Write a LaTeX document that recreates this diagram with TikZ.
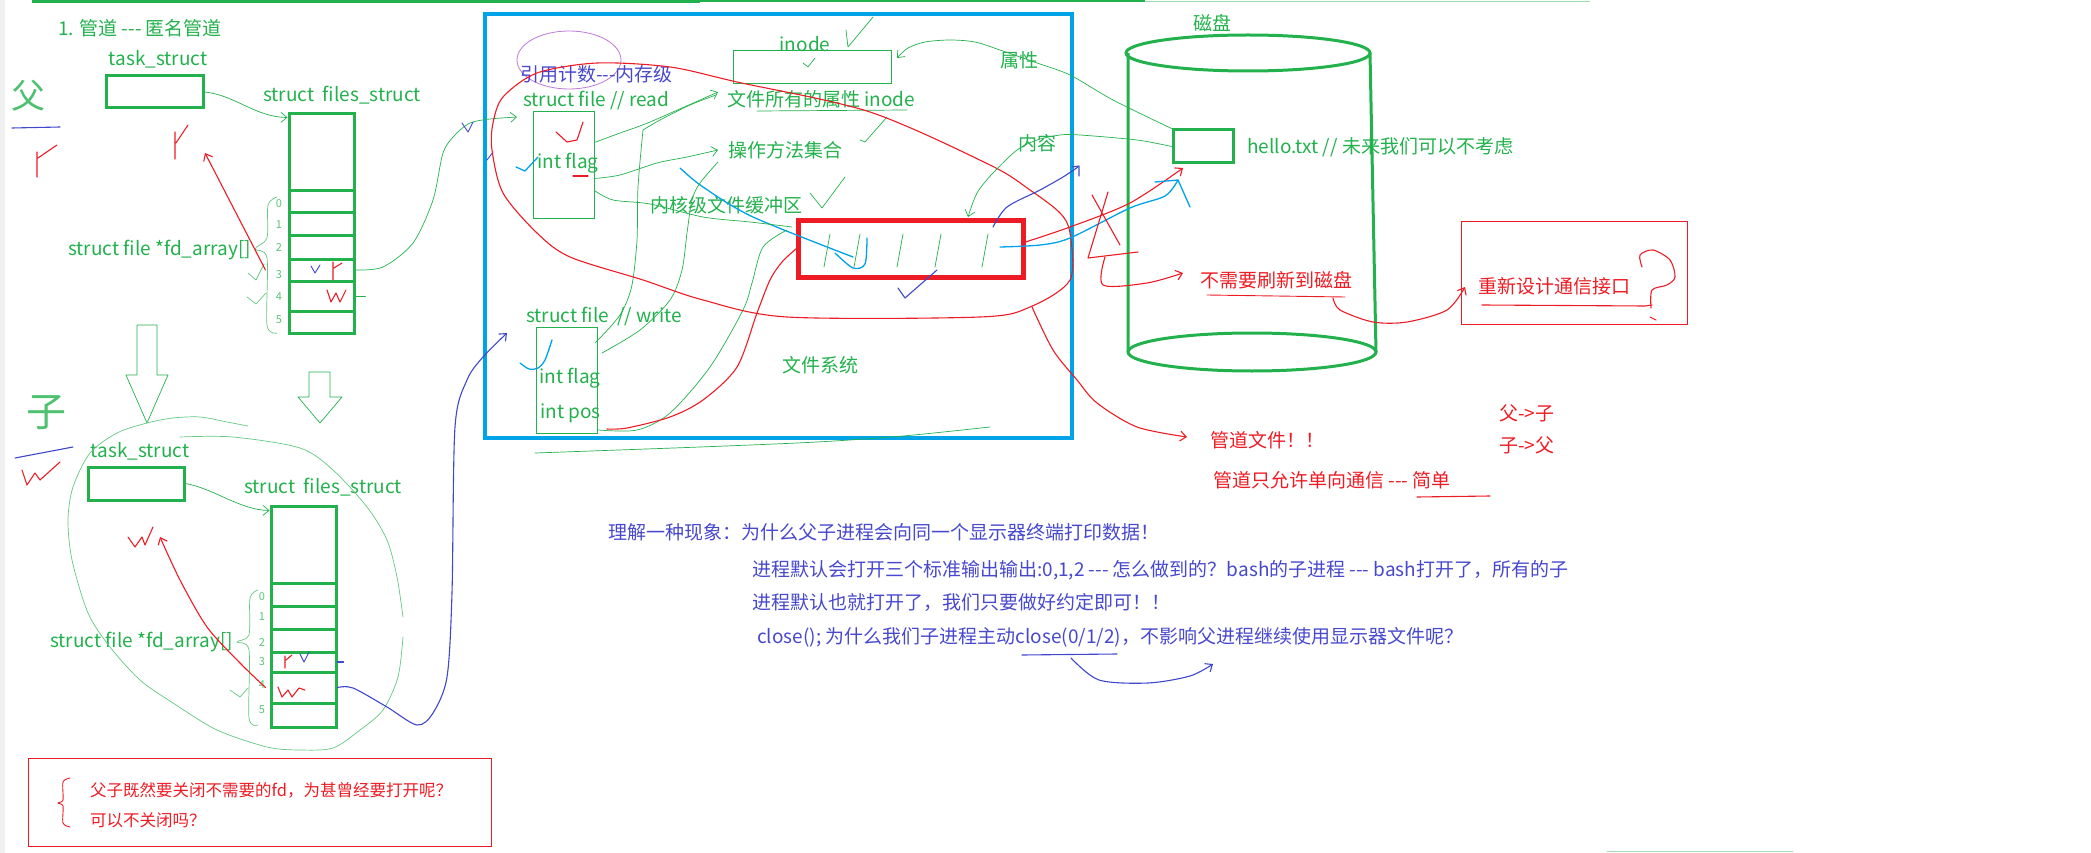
\documentclass[tikz,border=0pt]{standalone}
\usepackage{fontspec}
\setmainfont{Noto Sans CJK SC}
\usetikzlibrary{arrows.meta}
\definecolor{PaintGreen}{RGB}{34,177,76}
\definecolor{PaintRed}{RGB}{237,28,36}
\definecolor{PaintCyan}{RGB}{0,162,232}
\definecolor{PaintBlue}{RGB}{63,72,204}
\definecolor{NoteBlue}{RGB}{72,72,206}
\definecolor{PaintPurple}{RGB}{190,120,215}
\newcommand\tripdash{\mbox{-}\mbox{-}\mbox{-}}

\begin{document}
\begin{tikzpicture}[x=1pt,y=-1pt,
  gtxt/.style={text=PaintGreen,inner sep=0pt,anchor=west,font=\fontsize{19}{23}\selectfont},
  rtxt/.style={gtxt,text=PaintRed},
  btxt/.style={gtxt,text=NoteBlue},
  thickbox/.style={draw=PaintGreen,line width=3pt,inner sep=0pt},
  thinbox/.style={draw=PaintGreen,line width=0.8pt,inner sep=0pt},
  cell/.style={thickbox,minimum width=65pt},
  digit/.style={text=PaintGreen!75,inner sep=0pt,font=\fontsize{11}{12}\selectfont},
  gline/.style={draw=PaintGreen,line width=0.7pt,line cap=round,line join=round},
  rline/.style={draw=PaintRed,line width=1.1pt,line cap=round,line join=round},
  bline/.style={draw=PaintBlue,line width=1.1pt,line cap=round,line join=round},
  cline/.style={draw=PaintCyan,line width=1.3pt,line cap=round,line join=round},
  hd/.style={-{Straight Barb[length=6pt,width=10pt]}}]
\useasboundingbox (0,0) rectangle (2091,853);
\fill[gray!12] (0,0) rectangle (5,853);

% top rule
\draw[PaintGreen,line width=3pt] (32,1.5) -- (700,1.5);
\draw[PaintGreen,line width=2pt] (700,1.5) -- (1145,1.5);
\draw[PaintGreen!45,line width=1.5pt] (1145,1.5) -- (1590,1.5);

%%%%%%%%%% parent process
\node[gtxt] (title) at (58,28) {1. 管道 \tripdash{} 匿名管道};
\node[gtxt,text=PaintGreen!80,font=\fontsize{34}{36}\selectfont,anchor=center] (fa) at (28,96) {父};
\draw[bline] (12,128) -- (60,127);
\draw[rline] (37,152) -- (37,177) (38,158) -- (57,145);

\node[gtxt,anchor=center] (ptasklbl) at (158,59) {task\_struct};
\node[thickbox,minimum width=97pt,minimum height=32pt] (ptask) at (154.5,92) {};
\node[gtxt] (pfileslbl) at (263,95) {struct\ \ files\_struct};
\node[gtxt] (parrlbl) at (68,250) {struct file *fd\_array[]};

\foreach \t/\b/\n in {114/191/pf,191/213/p0,213/236/p1,236/259/p2,259/281/p3,281/311/p4,311/333/p5}{
  \pgfmathsetmacro\cellh{\b-\t}
  \pgfmathsetmacro\cellm{(\t+\b)/2}
  \node[cell,minimum height=\cellh pt] (\n) at (321.5,\cellm) {};
}
\foreach \d/\y in {0/204,1/225,2/248,3/275,4/297,5/320}
  \node[digit] (pd\d) at (279,\y) {\d};
\draw[gline,draw=PaintGreen!70] plot[smooth] coordinates {(277,197) (268,205) (267,238) (255,249) (267,258) (267,325) (277,333)};
\draw[gline,draw=PaintGreen!70] (248,273) -- (256,280) -- (264,264) (247,297) -- (256,304) -- (266,293);

\draw[bline,line width=0.9pt] (311,266) -- (315,273) -- (320,265);
\draw[rline] (333,262) -- (333,280) (334,268) -- (342,263);
\draw[rline] (327,290) -- (331,302) -- (336,293) -- (340,302) -- (346,290);
\draw[gline] (p4.east) -- ++(10pt,0pt);

\draw[gline,hd] (ptask.east) .. controls (235,95) and (255,117) .. ([yshift=-5pt]pf.north west);
\draw[rline,hd] ([xshift=-22pt]p3.west) -- (205,153);
\draw[rline] (175,132) -- (175,159) (176,143) -- (188,125);

%%%%%%%%%% fork arrows
\draw[gline] (137,325) -- (157,325) -- (157,375) -- (168,375) -- (147,423) -- (126,375) -- (137,375) -- cycle;
\draw[gline] (309,372) -- (330,372) -- (330,397) -- (342,397) -- (320,423) -- (298,397) -- (309,397) -- cycle;

%%%%%%%%%% child process
\node[gtxt,text=PaintGreen!80,font=\fontsize{40}{42}\selectfont,anchor=center] (zi) at (46,413) {子};
\draw[bline] (15,458) -- (73,447);
\draw[rline] (22,470) -- (27,485) -- (35,473) -- (40,480) -- (60,462);

\node[gtxt,anchor=center] (ctasklbl) at (140,451) {task\_struct};
\node[thickbox,minimum width=96pt,minimum height=33pt] (ctask) at (136,483.5) {};
\node[gtxt] (cfileslbl) at (244,487) {struct\ \ files\_struct};
\node[gtxt] (carrlbl) at (50,642) {struct file *fd\_array[]};

\foreach \t/\b/\n in {506/583/cf,583/606/c0,606/629/c1,629/652/c2,652/672/c3,672/703/c4,703/727/c5}{
  \pgfmathsetmacro\cellh{\b-\t}
  \pgfmathsetmacro\cellm{(\t+\b)/2}
  \node[cell,minimum height=\cellh pt] (\n) at (303.5,\cellm) {};
}
\foreach \d/\y in {0/597,1/617,2/643,3/662,4/685,5/710}
  \node[digit] (cd\d) at (262,\y) {\d};
\draw[gline,draw=PaintGreen!70] plot[smooth] coordinates {(258,590) (250,598) (249,635) (237,642) (249,650) (249,718) (258,725)};
\draw[gline,draw=PaintGreen!70] (230,690) -- (240,697) -- (248,688);

\draw[rline] (285,656) -- (285,668) (286,660) -- (292,655);
\draw[bline,line width=0.9pt] (300,654) -- (304,662) -- (309,652);
\draw[rline] (278,687) -- (282,697) -- (288,690) -- (292,697) -- (299,688) -- (305,690);
\draw[bline] (c3.east) -- ++(6pt,0pt);

\draw[gline,hd] (ctask.east) .. controls (215,489) and (240,510) .. ([yshift=-6pt]cf.north west);
\draw[rline,hd] plot[smooth] coordinates {([xshift=-4pt]c4.west) (240,663) (207,627) (180,580) (160,537)};
\draw[rline] (128,537) -- (135,547) -- (142,537) -- (145,545) -- (153,527);

% loop round the child
\draw[gline,draw=PaintGreen!70] plot[smooth] coordinates {(180,437) (233,437) (300,448) (333,470) (367,507) (387,540) (397,577) (403,617)};
\draw[gline,draw=PaintGreen!70] plot[smooth] coordinates {(403,637) (398,677) (383,710) (360,730) (333,748) (300,750) (267,747) (217,730) (173,703) (140,680) (110,647) (88,613) (72,560) (68,520) (73,487) (90,453) (117,433) (147,423) (173,418) (200,417) (227,422) (248,426)};

%%%%%%%%%% file system
\node[draw=PaintCyan,line width=3.5pt,minimum width=587pt,minimum height=424pt,inner sep=0pt] (fs) at (778.5,226) {};
\draw[PaintPurple,line width=0.8pt] (569,60) ellipse[x radius=52pt,y radius=29pt];
\node[btxt] (refcnt) at (520,74) {引用计数\tripdash{}内存级};
\node[gtxt] (rfilelbl) at (523,101) {struct file // read};
\node[thinbox,minimum width=61pt,minimum height=107pt] (rbox) at (563.5,164.5) {};
\node[gtxt] (rflag) at (537,163) {int flag};
\node[gtxt,anchor=center] (inodelbl) at (805,44) {inode};
\node[thinbox,minimum width=158pt,minimum height=33pt] (inodebox) at (812,66.5) {};
\node[gtxt] (attrlbl) at (727,99) {文件所有的属性 inode};
\node[gtxt] (opslbl) at (728,150) {操作方法集合};
\node[gtxt] (buflbl) at (650,205) {内核级文件缓冲区};
\node[draw=PaintRed,line width=5pt,minimum width=225pt,minimum height=56pt,inner sep=0pt] (rbuf) at (910.5,249) {};
\node[gtxt] (wfilelbl) at (526,317) {struct file\ \ // write};
\node[thinbox,minimum width=61pt,minimum height=106pt] (wbox) at (566.5,380) {};
\node[gtxt] (wflag) at (539,378) {int flag};
\node[gtxt] (wpos) at (540,413) {int pos};
\node[gtxt,anchor=center] (fslbl) at (820,365) {文件系统};
\node[gtxt] (attrnote) at (1000,60) {属性};
\node[gtxt] (datanote) at (1018,143) {内容};

% marks inside the file objects
\draw[rline] (556,132) -- (567,142) -- (577,140) -- (583,122);
\draw[rline] (573,176) -- (588,176);
\draw[cline] (516,167) -- (525,171) -- (538,157);
\draw[cline] plot[smooth] coordinates {(552,340) (545,360) (538,368) (529,369) (520,363)};
\draw[gline] (803,63) -- (808,67) -- (815,58);
\draw[gline] (846,30) -- (848,47) -- (873,17);
\draw[gline] (860,140) -- (865,142) -- (887,117);
\draw[gline] (810,193) -- (822,208) -- (845,177);
\draw[gline] (757,111) -- (907,110);
\foreach \x in {827,857,900,938,985}
  \draw[gline] (\x+3,234) -- (\x-3,267);
\draw[cline] plot[smooth] coordinates {(680,168) (703,187) (753,217) (853,257)};
\draw[cline] plot[smooth] coordinates {(867,238) (865,264) (853,268) (835,253)};
\draw[bline] (898,288) -- (905,298) -- (937,270);

% green links
\draw[gline,hd] plot[smooth] coordinates {(p3.east) (383,267) (413,243) (433,200) (443,153) (455,135) (470,123) (490,119) (517,117)};
\draw[bline,line width=0.9pt] (462,123) -- (468,132) -- (473,122);
\draw[bline,line width=0.9pt] (487,160) -- (493,152);
\draw[gline,hd] plot[smooth] coordinates {([yshift=22pt]rbox.east) (620,133) (650,122) (718,92)};
\draw[gline] plot[smooth] coordinates {(643,130) (660,120) (690,105) (716,95)};
\draw[gline,hd] plot[smooth] coordinates {([yshift=-14pt]rbox.east) (620,175) (657,163) (687,157) (718,150)};
\draw[gline] plot[smooth] coordinates {([yshift=-26pt]rbox.east) (613,200) (650,204) (703,217) (750,222) (792,227)};
\draw[gline] plot[smooth] coordinates {(595,343) (612,325) (623,310) (632,285) (637,240) (638,187) (643,130)};
\draw[gline] plot[smooth] coordinates {(602,353) (640,330) (670,300) (682,270) (687,233) (692,200) (700,183) (718,162)};
\draw[gline] plot[smooth] coordinates {(598,430) (637,430) (670,413) (710,367) (743,310) (752,283) (763,247) (787,230)};
\draw[gline] plot[smooth] coordinates {(535,453) (700,447) (817,442) (903,436) (990,427)};
\draw[rline] plot[smooth] coordinates {(607,429) (627,428) (670,417) (703,400) (737,367) (757,313) (770,280) (782,262) (797,248)};

% write end of the child
\draw[bline,hd] plot[smooth] coordinates {(c4.east) (353,688) (387,707) (417,725) (433,713) (447,677) (452,593) (455,427) (467,380) (483,357) (507,333)};

% the shared part
\draw[rline] plot[smooth cycle] coordinates {(597,63) (670,67) (737,82) (870,112) (990,165) (1030,190) (1060,213) (1070,233) (1070,280) (1030,307) (980,317) (787,317) (703,300) (643,280) (570,257) (537,233) (503,193) (492,150) (493,123) (503,97) (537,73)};

%%%%%%%%%% disk
\node[gtxt,anchor=center] (disklbl) at (1212,23) {磁盘};
\draw[PaintGreen,line width=3pt] (1248,53) ellipse[x radius=122pt,y radius=18pt];
\draw[PaintGreen,line width=3pt] (1252,352) ellipse[x radius=124pt,y radius=19pt];
\draw[PaintGreen,line width=3pt] (1128,53) -- (1128,352) (1370,53) -- (1376,352);
\node[thickbox,minimum width=60pt,minimum height=33pt] (hello) at (1203,146.5) {};
\node[gtxt] (hellolbl) at (1247,147) {hello.txt // 未来我们可以不考虑};

\draw[gline,hd] plot[smooth] coordinates {(hello.north west) (1113,100) (1070,75) (1037,63) (1000,50) (975,42) (950,40) (925,42) (908,48) (897,58)};
\draw[gline,hd] plot[smooth] coordinates {(hello.west) (1137,140) (1080,135) (1060,135) (1037,140) (1017,150) (993,173) (977,193) (968,217)};

\draw[rline,hd] plot[smooth] coordinates {([yshift=7pt]rbuf.east) (1070,227) (1130,203) (1183,168)};
\draw[cline] plot[smooth] coordinates {(1000,247) (1040,245) (1070,238) (1130,208) (1165,196) (1178,180)};
\draw[cline] (1155,182) -- (1178,180) -- (1190,207);
\draw[bline] plot[smooth] coordinates {(993,227) (1007,207) (1040,190) (1063,177) (1078,167)};
\draw[bline] (1072,167) -- (1079,166) -- (1079,176);
\draw[rline] (1092,195) -- (1120,245) (1108,192) -- (1088,258) -- (1138,252);

\node[rtxt] (noflush) at (1200,280) {不需要刷新到磁盘};
\draw[rline,line width=0.9pt] (1207,295) -- (1345,297);
\draw[rline,hd] plot[smooth] coordinates {(1105,257) (1103,285) (1147,283) (1183,273)};

\node[draw=PaintRed,line width=0.9pt,minimum width=226pt,minimum height=103pt,inner sep=0pt] (rtbox) at (1574,272.5) {};
\node[rtxt] (redesign) at (1478,286) {重新设计通信接口};
\draw[rline] (1482,305) -- (1645,306) -- (1652,305);
\draw[rline] plot[smooth] coordinates {(1642,267) (1640,255) (1653,250) (1670,260) (1675,277) (1667,285) (1652,290) (1651,308)};
\draw[rline] (1650,317) -- (1656,320);
\draw[rline,hd] plot[smooth] coordinates {(1333,298) (1340,310) (1373,322) (1407,322) (1447,310) (1465,287)};

\node[rtxt] (pipefile) at (1210,440) {管道文件！！};
\draw[rline,hd] plot[smooth] coordinates {(1032,307) (1053,350) (1077,380) (1097,403) (1137,427) (1187,437)};
\node[rtxt] (oneway) at (1213,480) {管道只允许单向通信 \tripdash{} 简单};
\draw[rline] (1417,497) -- (1490,496);
\node[rtxt] (p2c) at (1499,413) {父->子};
\node[rtxt] (c2p) at (1499,445) {子->父};

%%%%%%%%%% notes
\node[btxt] (q1) at (608,532) {理解一种现象：为什么父子进程会向同一个显示器终端打印数据！};
\node[btxt] (q2) at (752,570) {进程默认会打开三个标准输出输出:0,1,2 \tripdash{} 怎么做到的？bash的子进程 \tripdash{} bash打开了，所有的子};
\node[btxt] (q3) at (752,602) {进程默认也就打开了，我们只要做好约定即可！！};
\node[btxt] (q4) at (757,637) {close(); 为什么我们子进程主动close(0/1/2)，不影响父进程继续使用显示器文件呢？};
\draw[bline] (1022,655) -- (1117,654);
\draw[bline,hd] plot[smooth] coordinates {(1071,658) (1099,680) (1148,683) (1190,676) (1213,664)};

\node[draw=PaintRed,line width=0.9pt,minimum width=463pt,minimum height=88pt,inner sep=0pt] (qbox) at (259.5,802) {};
\draw[rline,line width=0.9pt] plot[smooth] coordinates {(70,778) (63,782) (63,800) (58,803) (63,806) (63,823) (70,827)};
\node[rtxt,font=\fontsize{16.5}{20}\selectfont] (qa) at (90,790) {父子既然要关闭不需要的fd，为甚曾经要打开呢？};
\node[rtxt,font=\fontsize{16.5}{20}\selectfont] (qb) at (90,820) {可以不关闭吗？};

\draw[gline,draw=PaintGreen!40] (1607,851) -- (1793,851);
\end{tikzpicture}
\end{document}
